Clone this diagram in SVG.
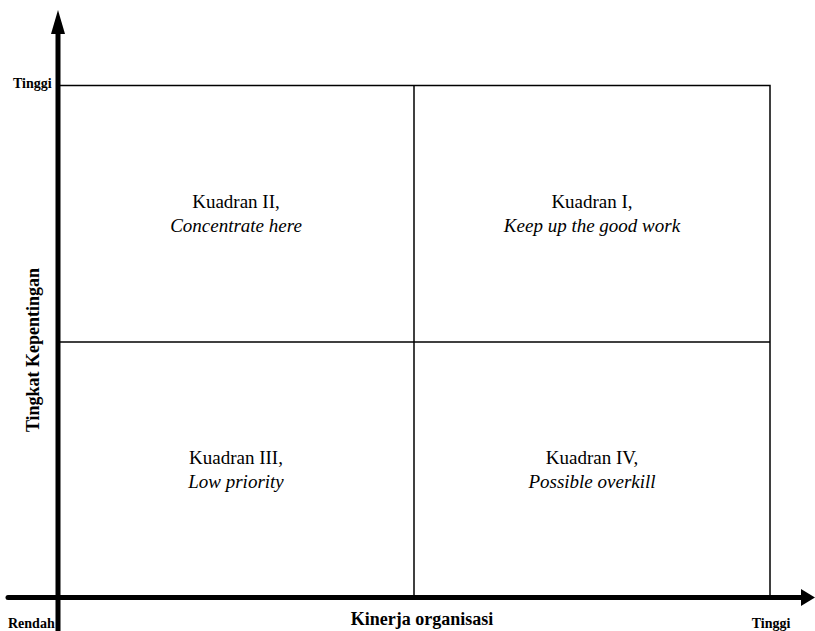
<svg xmlns="http://www.w3.org/2000/svg" width="815" height="631" viewBox="0 0 815 631">
<style>
.grid{stroke:#000;stroke-width:1.5;fill:none}
.axis{stroke:#000;stroke-width:5;fill:none}
.lbl{font-family:"Liberation Serif","Times New Roman",serif;font-weight:bold;fill:#000}
.q{font-family:"Liberation Serif","Times New Roman",serif;font-size:19px;fill:#000;text-anchor:middle}
.it{font-style:italic}
</style>
<rect width="815" height="631" fill="#fff"/>
<g id="grid">
<rect class="grid" x="58" y="85.5" width="712" height="512"/>
<line class="grid" x1="414" y1="85.5" x2="414" y2="597.5"/>
<line class="grid" x1="58" y1="342" x2="770" y2="342"/>
</g>
<g id="connectors">
<line class="axis" x1="58" y1="30" x2="58" y2="631"/>
<polygon points="58,10 51,34 65,34" fill="#000"/>
<line class="axis" x1="8" y1="597.5" x2="804" y2="597.5" stroke-linecap="round"/>
<polygon points="815,597.5 801,589 801,606" fill="#000"/>
</g>
<g id="q1"><text class="q" x="592" y="208">Kuadran I,</text><text class="q it" x="592" y="232">Keep up the good work</text></g>
<g id="q2"><text class="q" x="236" y="208">Kuadran II,</text><text class="q it" x="236" y="232">Concentrate here</text></g>
<g id="q3"><text class="q" x="236" y="464">Kuadran III,</text><text class="q it" x="236" y="488">Low priority</text></g>
<g id="q4"><text class="q" x="592" y="464">Kuadran IV,</text><text class="q it" x="592" y="488">Possible overkill</text></g>
<g id="labels">
<text class="lbl" x="13" y="88" font-size="14">Tinggi</text>
<text class="lbl" x="8" y="628" font-size="14">Rendah</text>
<text class="lbl" x="771" y="628" font-size="14" text-anchor="middle">Tinggi</text>
<text class="lbl" x="422" y="625" font-size="18" text-anchor="middle">Kinerja organisasi</text>
<text class="lbl" x="0" y="0" font-size="18" text-anchor="middle" transform="translate(39,350) rotate(-90)">Tingkat Kepentingan</text>
</g>
</svg>
